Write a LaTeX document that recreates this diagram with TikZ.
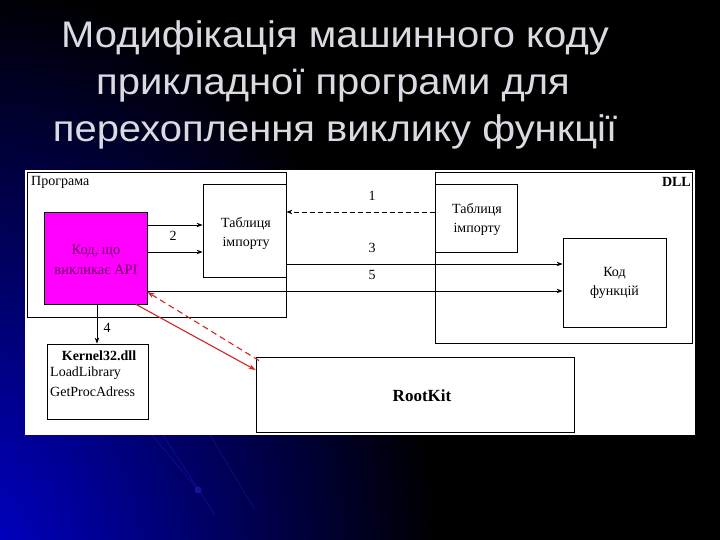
\documentclass[tikz,border=0pt]{standalone}
\usepackage{fontspec}
\setmainfont{Liberation Serif}
\newfontfamily\titlefont[FakeStretch=1.08]{Liberation Sans}
\usetikzlibrary{arrows.meta}
\definecolor{titlegray}{RGB}{218,218,226}
\definecolor{magbox}{RGB}{255,0,255}
\definecolor{magtext}{RGB}{105,0,95}
\definecolor{glow}{RGB}{0,0,210}
\definecolor{streak}{RGB}{20,20,150}
\definecolor{redarrow}{RGB}{210,35,35}
\begin{document}
\begin{tikzpicture}[x=1pt,y=-1pt,
  box/.style={draw=black, line width=0.8pt, fill=white, inner sep=0pt},
  txt/.style={font=\fontsize{14}{19}\selectfont, align=center, inner sep=0pt},
  lab/.style={font=\fontsize{14}{16}\selectfont, inner sep=0pt},
  arr/.style={line width=0.8pt, -{Stealth[length=6pt,width=4.5pt]}},
  redarr/.style={line width=1.1pt, draw=redarrow, -{Stealth[length=7pt,width=5pt]}},
  titletext/.style={font=\titlefont\fontsize{37}{40}\selectfont, text=titlegray, anchor=base, inner sep=0pt}]
\useasboundingbox (0,0) rectangle (720,540);
% background
\fill[black] (0,0) rectangle (720,540);
\begin{scope}
  \clip (0,0) rectangle (720,540);
  \shade[inner color=glow, outer color=black] (-40,580) ellipse (480 and 600);
  \draw[streak, line width=0.8pt, opacity=0.7] (152,435) -- (200,492);
  \draw[streak, line width=0.8pt, opacity=0.7] (163,435) -- (215,515);
  \draw[streak, line width=0.8pt, opacity=0.6] (210,435) -- (255,510);
  \fill[streak] (198,490) circle (3.5);
\end{scope}
% title
\node[titletext] (t1) at (335,48) {Модифікація машинного коду};
\node[titletext] (t2) at (333,95) {прикладної програми для};
\node[titletext] (t3) at (335,142) {перехоплення виклику функції};
% white panel
\fill[white] (25,170) rectangle (695,435);
% boxes
\node[box, minimum width=259, minimum height=145] (prog) at (156.5,244.5) {};
\node[lab, anchor=north west] (progl) at (31,176) {Програма};
\node[box, minimum width=83, minimum height=93] (tab1) at (244.5,230.5) {};
\node[txt] (tab1t) at (246,233.5) {Таблиця\\імпорту};
\node[box, fill=magbox, minimum width=103, minimum height=92] (code) at (95.5,258) {};
\node[txt, text=magtext, font=\fontsize{14.5}{20}\selectfont] (codet) at (96,260) {Код, що\\викликає API};
\node[box, minimum width=257, minimum height=171] (dll) at (563.5,257.5) {};
\node[lab, font=\fontsize{14}{16}\selectfont\bfseries, anchor=north east] (dlll) at (691,177) {DLL};
\node[box, minimum width=82, minimum height=68] (tab2) at (476,218) {};
\node[txt] (tab2t) at (477,219.5) {Таблиця\\імпорту};
\node[box, minimum width=103, minimum height=89] (func) at (614.5,282.5) {};
\node[txt] (funct) at (614.5,282.5) {Код\\функцій};
\node[box, minimum width=101, minimum height=75] (kern) at (97.5,381.5) {};
\node[lab, font=\fontsize{14}{16}\selectfont\bfseries] (kernt) at (99,356) {Kernel32.dll};
\node[lab, anchor=west] (kern1) at (50,373.5) {LoadLibrary};
\node[lab, anchor=west] (kern2) at (50,392) {GetProcAdress};
\node[box, minimum width=318, minimum height=75] (rk) at (415,394.5) {};
\node[lab, font=\fontsize{17}{20}\selectfont\bfseries] (rkt) at (422,396) {RootKit};
% connectors
\draw[arr, dashed, dash pattern=on 5pt off 3pt] (tab2.west |- 0,212) -- (prog.east |- 0,212);
\draw[arr] (code.east |- 0,225) -- (tab1.west |- 0,225);
\draw[arr] (code.east |- 0,252) -- (tab1.west |- 0,252);
\draw[arr] (tab1.east |- 0,264) -- (func.west |- 0,264);
\draw[arr] (code.east |- 0,291) -- (func.west |- 0,291);
\draw[arr] (code.south -| 97,0) -- (kern.north -| 97,0);
\draw[redarr] (code.south -| 136,0) -- (rk.west |- 0,370);
\draw[redarr, dash pattern=on 6pt off 4pt] ([yshift=-4pt]rk.north -| 259,0) -- (code.east |- 0,292);
% labels
\node[lab] (l1) at (372,196) {1};
\node[lab] (l2) at (173,236) {2};
\node[lab] (l3) at (372,248) {3};
\node[lab] (l4) at (107,328) {4};
\node[lab] (l5) at (372,275) {5};
\end{tikzpicture}
\end{document}
